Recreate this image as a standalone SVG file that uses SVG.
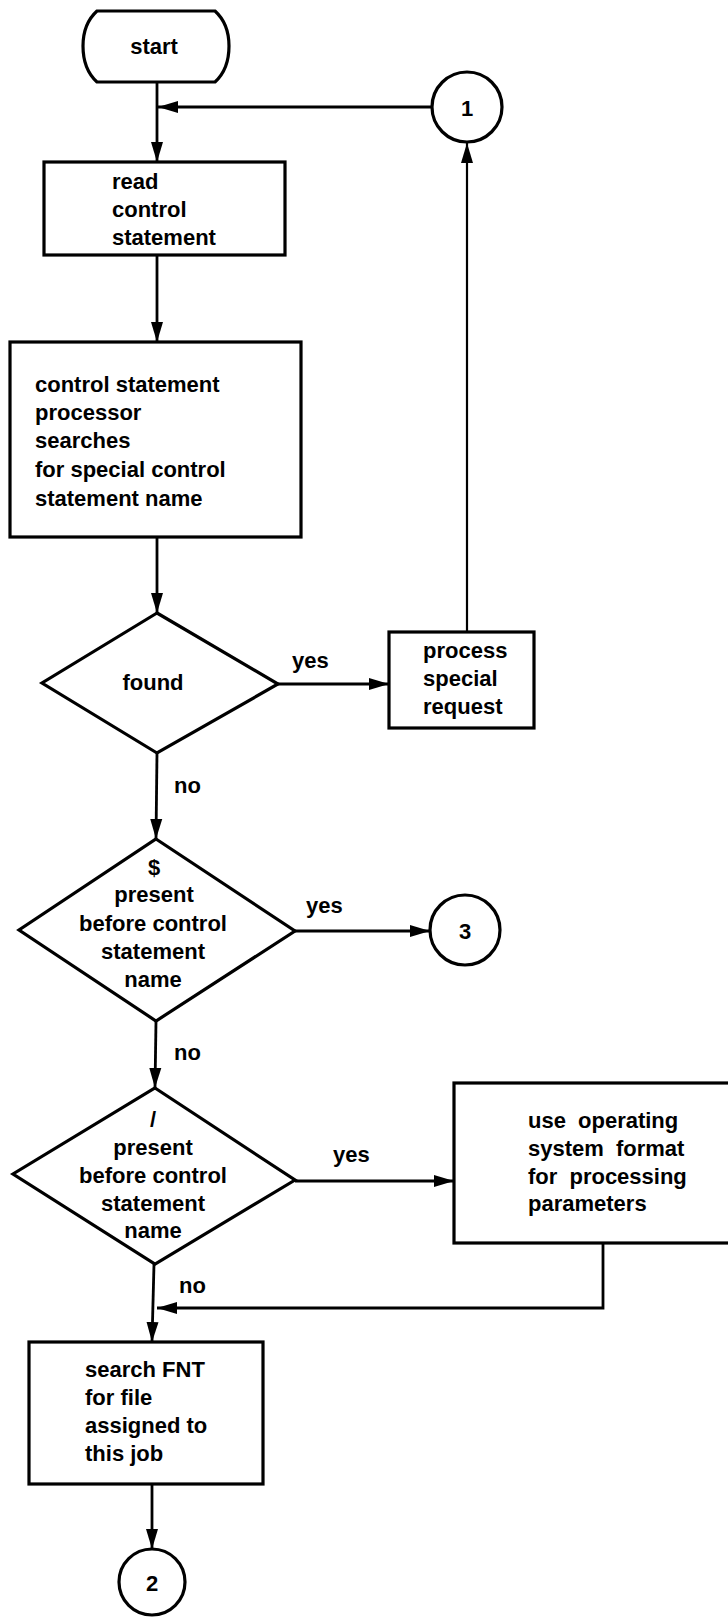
<svg xmlns="http://www.w3.org/2000/svg" width="728" height="1617" viewBox="0 0 728 1617">
  <style>
    .shape { fill: #ffffff; stroke: #000000; stroke-width: 3.2; stroke-linejoin: miter; }
    .edge { fill: none; stroke: #000000; stroke-width: 2.8; }
    .thin { stroke-width: 2.2; }
    .lbl { font-family: "Liberation Sans", Arial, sans-serif; font-weight: bold; font-size: 22px; fill: #000000; }
    .mid { text-anchor: middle; }
  </style>
  <defs>
    <marker id="arrow" markerUnits="userSpaceOnUse" markerWidth="22" markerHeight="14" refX="20" refY="7" orient="auto">
      <path d="M0,1 L20,7 L0,13 Z" fill="#000000"/>
    </marker>
  </defs>

  <rect width="728" height="1617" fill="#ffffff"/>

  <!-- connectors -->
  <g id="connectors">
    <line class="edge" x1="157" y1="82" x2="157" y2="162" marker-end="url(#arrow)"/>
    <line class="edge" x1="432" y1="107" x2="158" y2="107" marker-end="url(#arrow)"/>
    <line class="edge" x1="157" y1="255" x2="157" y2="342" marker-end="url(#arrow)"/>
    <line class="edge" x1="157" y1="537" x2="157" y2="613" marker-end="url(#arrow)"/>
    <line class="edge" x1="278" y1="684" x2="389" y2="684" marker-end="url(#arrow)"/>
    <line class="edge thin" x1="467" y1="632" x2="467" y2="143" marker-end="url(#arrow)"/>
    <line class="edge" x1="157" y1="753" x2="156" y2="839" marker-end="url(#arrow)"/>
    <line class="edge" x1="295" y1="931" x2="430" y2="931" marker-end="url(#arrow)"/>
    <line class="edge" x1="156" y1="1021" x2="155" y2="1088" marker-end="url(#arrow)"/>
    <line class="edge" x1="295" y1="1181" x2="454" y2="1181" marker-end="url(#arrow)"/>
    <path class="edge" d="M603,1243 V1308 H157" marker-end="url(#arrow)"/>
    <line class="edge" x1="154" y1="1264" x2="152" y2="1342" marker-end="url(#arrow)"/>
    <line class="edge" x1="152" y1="1484" x2="152" y2="1549" marker-end="url(#arrow)"/>

    <text class="lbl" x="292" y="668">yes</text>
    <text class="lbl" x="174" y="793">no</text>
    <text class="lbl" x="306" y="913">yes</text>
    <text class="lbl" x="174" y="1060">no</text>
    <text class="lbl" x="333" y="1162">yes</text>
    <text class="lbl" x="179" y="1293">no</text>
  </g>

  <!-- terminal -->
  <g id="start">
    <path class="shape" d="M97,11 H215 C226,21 229,35 229,46 C229,58 226,72 215,82 H97 C86,72 83,58 83,46 C83,35 86,21 97,11 Z"/>
    <text class="lbl mid" x="154" y="54">start</text>
  </g>

  <!-- off-page connector 1 -->
  <g id="conn1">
    <circle class="shape" cx="467" cy="107" r="35"/>
    <text class="lbl mid" x="467" y="116">1</text>
  </g>

  <g id="read">
    <rect class="shape" x="44" y="162" width="241" height="93"/>
    <text class="lbl" x="112" y="189">read</text>
    <text class="lbl" x="112" y="217">control</text>
    <text class="lbl" x="112" y="245">statement</text>
  </g>

  <g id="search-special">
    <rect class="shape" x="10" y="342" width="291" height="195"/>
    <text class="lbl" x="35" y="392">control statement</text>
    <text class="lbl" x="35" y="420">processor</text>
    <text class="lbl" x="35" y="448">searches</text>
    <text class="lbl" x="35" y="477">for special control</text>
    <text class="lbl" x="35" y="506">statement name</text>
  </g>

  <g id="found">
    <polygon class="shape" points="157,613 278,684 157,753 42,683"/>
    <text class="lbl mid" x="153" y="690">found</text>
  </g>

  <g id="process-special">
    <rect class="shape" x="389" y="632" width="145" height="96"/>
    <text class="lbl" x="423" y="658">process</text>
    <text class="lbl" x="423" y="686">special</text>
    <text class="lbl" x="423" y="714">request</text>
  </g>

  <g id="dollar-check">
    <polygon class="shape" points="156,839 295,931 156,1021 19,930"/>
    <text class="lbl mid" x="154" y="875">$</text>
    <text class="lbl mid" x="154" y="902">present</text>
    <text class="lbl mid" x="153" y="931">before control</text>
    <text class="lbl mid" x="153" y="959">statement</text>
    <text class="lbl mid" x="153" y="987">name</text>
  </g>

  <g id="conn3">
    <circle class="shape" cx="465" cy="930" r="35"/>
    <text class="lbl mid" x="465" y="939">3</text>
  </g>

  <g id="slash-check">
    <polygon class="shape" points="155,1088 295,1180 155,1264 13,1174"/>
    <text class="lbl mid" x="153" y="1127">/</text>
    <text class="lbl mid" x="153" y="1155">present</text>
    <text class="lbl mid" x="153" y="1183">before control</text>
    <text class="lbl mid" x="153" y="1211">statement</text>
    <text class="lbl mid" x="153" y="1238">name</text>
  </g>

  <!-- box runs past the right edge -->
  <g id="os-format">
    <rect class="shape" x="454" y="1083" width="290" height="160"/>
    <text class="lbl" x="528" y="1128" word-spacing="6">use operating</text>
    <text class="lbl" x="528" y="1156" word-spacing="6">system format</text>
    <text class="lbl" x="528" y="1184" word-spacing="6">for processing</text>
    <text class="lbl" x="528" y="1211">parameters</text>
  </g>

  <g id="search-fnt">
    <rect class="shape" x="29" y="1342" width="234" height="142"/>
    <text class="lbl" x="85" y="1377">search FNT</text>
    <text class="lbl" x="85" y="1405">for file</text>
    <text class="lbl" x="85" y="1433">assigned to</text>
    <text class="lbl" x="85" y="1461">this job</text>
  </g>

  <g id="conn2">
    <circle class="shape" cx="152" cy="1582" r="33"/>
    <text class="lbl mid" x="152" y="1591">2</text>
  </g>
</svg>
